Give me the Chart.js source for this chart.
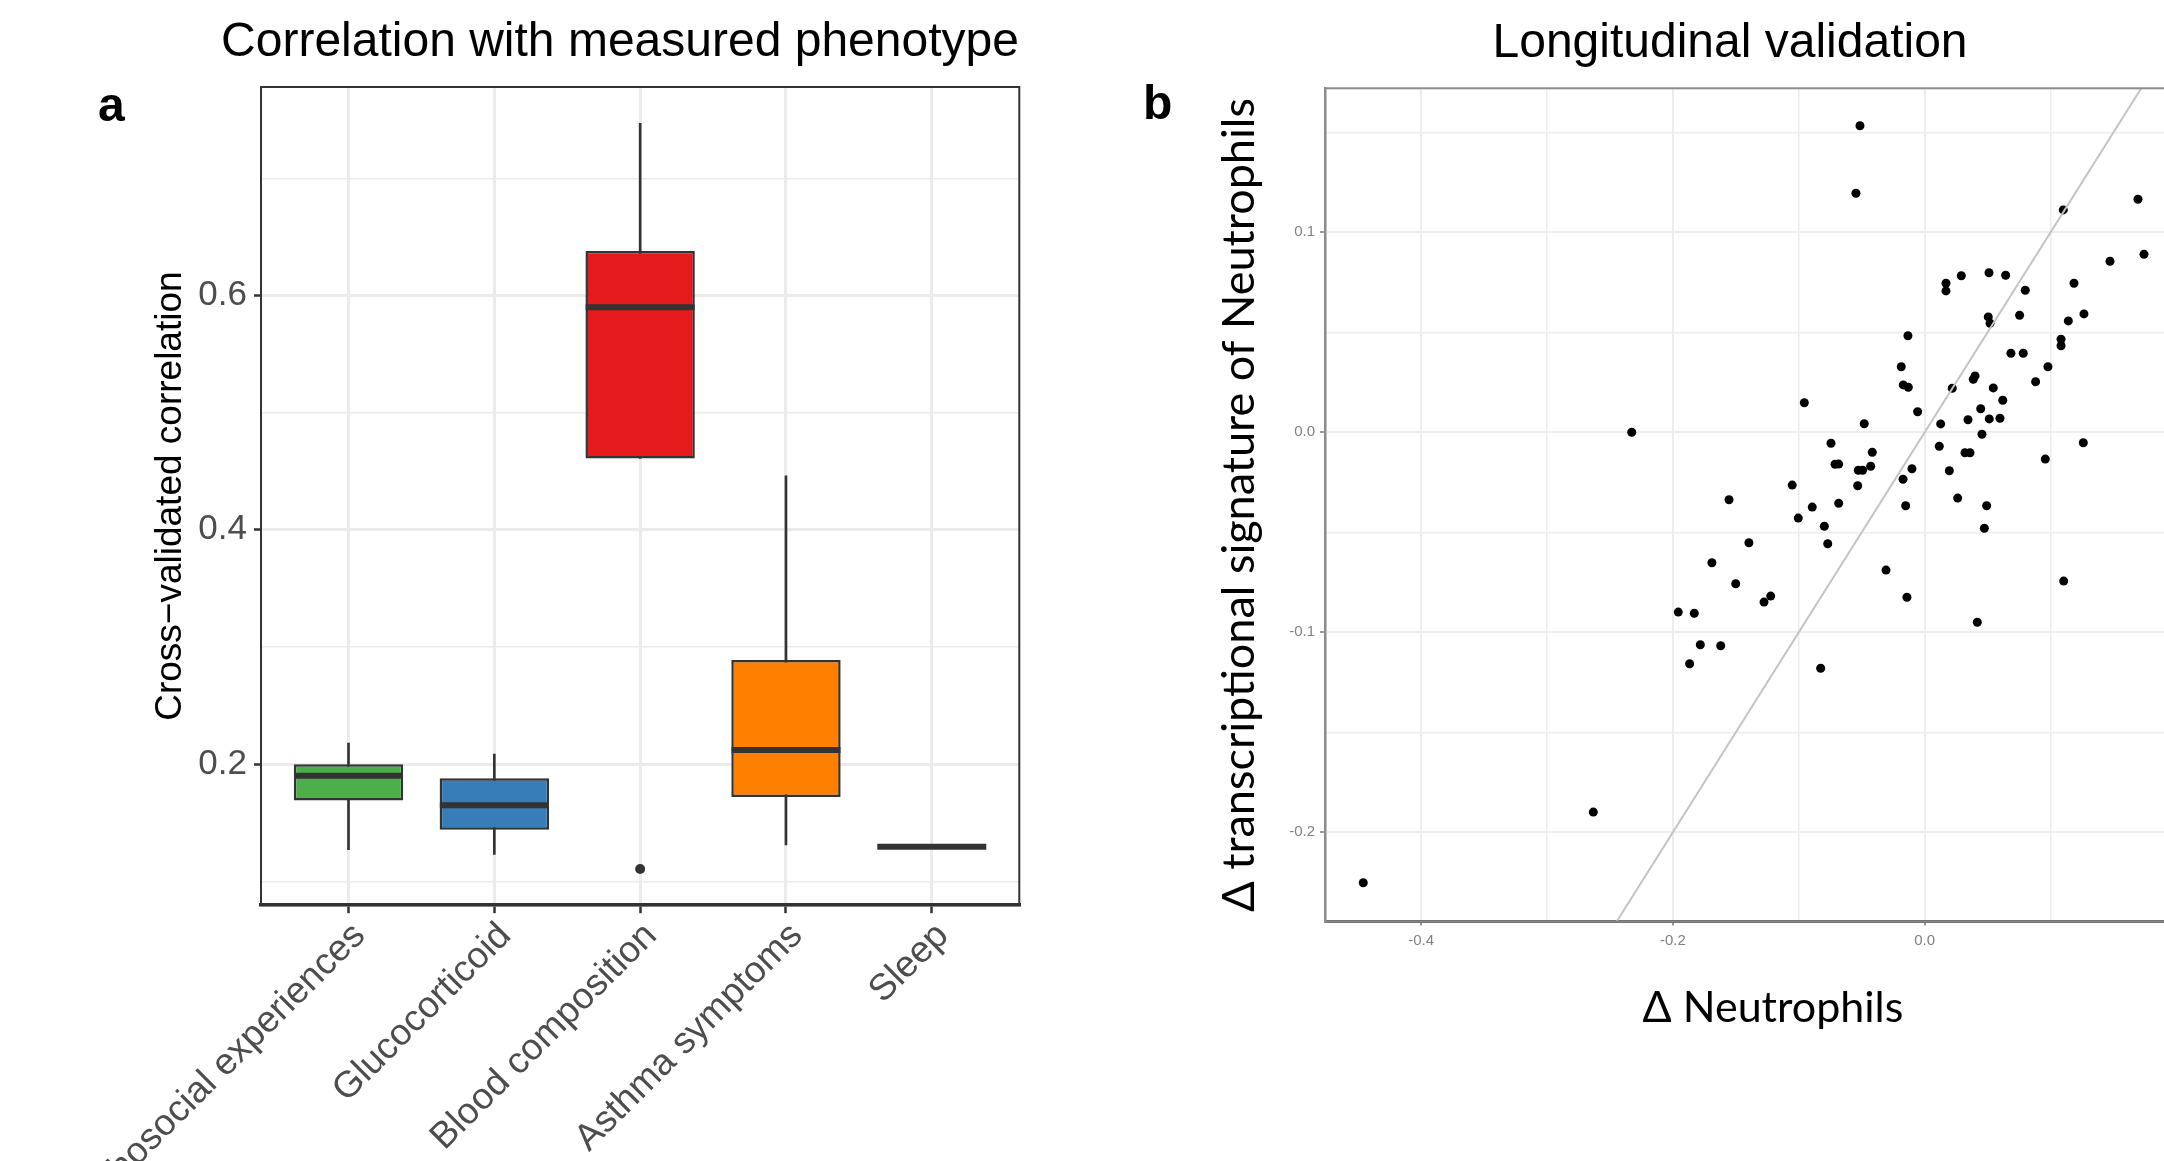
<!DOCTYPE html>
<html>
<head>
<meta charset="utf-8">
<script src="https://cdn.jsdelivr.net/npm/chart.js@4.4.1/dist/chart.umd.min.js"></script>
<style>
  html, body { margin: 0; padding: 0; background: #fff; }
  body { position: relative; width: 2164px; height: 1161px; overflow: hidden; }
  canvas { position: absolute; top: 0; }
  #chartA { left: 0; }
  #chartB { left: 1100px; }
  .txt { position: absolute; white-space: nowrap; line-height: 1; color: #000; z-index: 2; }
  .arial { font-family: 'Liberation Sans', Arial, sans-serif; }
</style>
</head>
<body>
<canvas id="chartA" width="1100" height="1161"></canvas>
<canvas id="chartB" width="1100" height="1161"></canvas>

<div class="txt arial" style="left:0;width:1240px;text-align:center;top:16px;font-size:48px">Correlation with measured phenotype</div>
<div class="txt arial" style="left:1230px;width:1000px;text-align:center;top:17px;font-size:48px">Longitudinal validation</div>
<div class="txt arial" style="left:98px;top:81px;font-size:48px;font-weight:bold">a</div>
<div class="txt arial" style="left:1143px;top:79px;font-size:48px;font-weight:bold">b</div>
<div class="txt" style="left:1573px;width:400px;text-align:center;top:984px;font-family:Lato,'Open Sans',sans-serif;font-size:43px">Δ Neutrophils</div>

<script>
// ─── PANEL A : cross-validated correlation per phenotype ─────────────────
const categories  = ['Psychosocial experiences', 'Glucocorticoid', 'Blood composition', 'Asthma symptoms', 'Sleep'];
const whiskerLow  = [0.127, 0.123, 0.461, 0.131, 0.1295];
const boxLow      = [0.169, 0.144, 0.461, 0.172, 0.1295];
const medians     = [0.190, 0.165, 0.590, 0.212, 0.1295];
const boxHigh     = [0.200, 0.188, 0.638, 0.289, 0.1295];
const whiskerHigh = [0.218, 0.2085, 0.747, 0.446, 0.1295];
const outlierCat  = [2];
const outlierVal  = [0.1105];
const boxColors   = ['#4DAF4A', '#377EB8', '#E41A1C', '#FF7F00', '#984EA3'];

const yRangeA  = [0.0796, 0.778];
const yGridA   = [0.1, 0.2, 0.3, 0.4, 0.5, 0.6, 0.7];
const yLabelsA = [0.2, 0.4, 0.6];

// ─── PANEL B : longitudinal validation ───────────────────────────────────
const dNeutro = [
  -0.0514, -0.0546, 0.1101, 0.1694, 0.1742, 0.1472, 0.1186, 0.1265, 0.1141, 0.1083,
   0.1083,  0.0979, 0.0881, 0.0799, 0.0754, 0.0685, 0.0783, 0.0643, 0.0511, 0.0505,
   0.0519,  0.0291, 0.0169, 0.0169, 0.0400, 0.0386, 0.0545, 0.0620, 0.0219, -0.0133,
  -0.0186, -0.0170, -0.0130, -0.0956, -0.0056, -0.0480, 0.0445, 0.0127, 0.0344, 0.0513,
   0.0598,  0.0455, 0.1260, 0.0116, 0.0320, 0.0360, 0.0958, 0.0196, -0.0101, -0.0172,
  -0.0151,  0.0262, 0.0492, 0.0474, -0.0416, -0.0429, -0.0527, -0.0493, -0.0532, -0.0744,
  -0.0712, -0.0683, -0.0683, -0.0893, -0.1004, -0.0797, -0.0770, -0.1052, -0.1554, -0.1396,
  -0.1690, -0.1501, -0.1223, -0.1276, -0.1957, -0.1830, -0.1782, -0.1620, -0.1867, -0.0826,
  -0.0307, -0.0141, 0.0418, 0.1104, -0.2327, -0.2632, -0.4459
];
const dSignature = [
   0.1533, 0.1195, 0.1112, 0.1165, 0.0890, 0.0855, 0.0745, 0.0592, 0.0557, 0.0465,
   0.0433, 0.0328, 0.0253, 0.0710, 0.0585, 0.0395, 0.0395, 0.0785, 0.0798, 0.0577,
   0.0545, 0.0783, 0.0745, 0.0707, 0.0282, 0.0265, 0.0222, 0.0160, 0.0220, 0.0483,
   0.0328, 0.0237, 0.0225, 0.0148, 0.0103, 0.0043, 0.0118, 0.0042, 0.0063, 0.0067,
   0.0070, -0.0010, -0.0052, -0.0070, -0.0102, -0.0102, -0.0134, -0.0192, -0.0182, -0.0235,
  -0.0367, -0.0329, -0.0367, -0.0480, -0.0100, -0.0170, -0.0190, -0.0190, -0.0267, -0.0055,
  -0.0160, -0.0159, -0.0355, -0.0374, -0.0429, -0.0470, -0.0557, -0.0264, -0.0337, -0.0552,
  -0.0652, -0.0757, -0.0819, -0.0849, -0.0899, -0.0905, -0.1062, -0.1067, -0.1157, -0.1180,
  -0.0689, -0.0825, -0.0950, -0.0744, 0.0000, -0.1899, -0.2252
];
const identityEnds = [-0.5, 0.5];   // y = x reference line

const xRangeB  = [-0.4763, 0.207];
const yRangeB  = [-0.2446, 0.172];
const xGridB   = [-0.4, -0.3, -0.2, -0.1, 0.0, 0.1, 0.2];
const xLabelsB = [-0.4, -0.2, 0.0, 0.2];
const yGridB   = [-0.2, -0.15, -0.1, -0.05, 0.0, 0.05, 0.1, 0.15];
const yLabelsB = [-0.2, -0.1, 0.0, 0.1];

// ─── SHARED ──────────────────────────────────────────────────────────────
const ARIAL = "'Liberation Sans', Arial, sans-serif";
const CALIBRI_ISH = "Lato, 'Open Sans', sans-serif";

// ggplot-like panel border drawn over the plot
const panelFrame = {
  id: 'panelFrame',
  afterDraw(chart, args, opts) {
    const { ctx, chartArea: a } = chart;
    ctx.save();
    ctx.strokeStyle = opts.color;
    ctx.lineWidth = opts.width;
    ctx.strokeRect(a.left, a.top, a.right - a.left, a.bottom - a.top);
    ctx.restore();
  }
};

function fixedTicks(values) {
  return scale => { scale.ticks = values.map(v => ({ value: v })); };
}

// ─── CHART A ─────────────────────────────────────────────────────────────
new Chart(document.getElementById('chartA'), {
  type: 'bar',
  data: {
    datasets: [
      {
        type: 'line', label: 'outlier',
        data: outlierCat.map((c, i) => ({ x: c, y: outlierVal[i] })),
        showLine: false, pointRadius: 5, pointBackgroundColor: '#333', pointBorderWidth: 0, order: 0
      },
      {
        type: 'line', label: 'median',
        data: categories.map((c, i) => ({ x: i, y: medians[i] })),
        showLine: false, pointStyle: 'line', pointRadius: 54.5,
        pointBorderColor: '#333', pointBorderWidth: 6, order: 1
      },
      {
        label: 'box',
        data: categories.map((c, i) => ({ x: i, y: [boxLow[i], boxHigh[i]] })),
        backgroundColor: boxColors, borderColor: '#333', borderWidth: 2.5, borderSkipped: false,
        grouped: false, categoryPercentage: 1, barPercentage: 0.75, order: 2
      },
      {
        label: 'whisker',
        data: categories.map((c, i) => ({ x: i, y: [whiskerLow[i], whiskerHigh[i]] })),
        backgroundColor: '#333', barThickness: 2, grouped: false, order: 3
      }
    ]
  },
  options: {
    responsive: false, animation: false,
    layout: { autoPadding: false, padding: { left: 0, top: 87, right: 80.7, bottom: 0 } },
    plugins: { legend: { display: false }, tooltip: { enabled: false }, panelFrame: { color: '#333', width: 2 } },
    scales: {
      x: {
        type: 'linear', min: -0.6, max: 4.6, offset: false,
        afterBuildTicks: fixedTicks(categories.map((c, i) => i)),
        afterFit: s => { s.height = 1161 - 905.2; s.paddingLeft = 0; s.paddingRight = 0; },
        ticks: {
          autoSkip: false, minRotation: 45, maxRotation: 45, padding: 1, labelOffset: 11,
          color: '#4d4d4d', font: { family: ARIAL, size: 37 },
          callback: v => categories[v]
        },
        grid: { offset: false, color: '#ebebeb', lineWidth: 3, tickLength: 8, tickColor: '#333', tickWidth: 2.5 },
        border: { display: true, color: '#333', width: 3.5 }
      },
      y: {
        min: yRangeA[0], max: yRangeA[1],
        afterBuildTicks: fixedTicks(yGridA),
        afterFit: s => { s.width = 261; s.paddingTop = 0; s.paddingBottom = 0; },
        ticks: {
          autoSkip: false, padding: 7, color: '#4d4d4d', font: { family: ARIAL, size: 35 },
          callback: v => yLabelsA.includes(v) ? v.toFixed(1) : ''
        },
        grid: {
          color: '#ebebeb',
          lineWidth: c => yLabelsA.includes(c.tick && c.tick.value) ? 3 : 1.5,
          tickLength: 7, tickWidth: 2.5,
          tickColor: c => yLabelsA.includes(c.tick && c.tick.value) ? '#333' : 'rgba(0,0,0,0)'
        },
        border: { display: false },
        title: {
          display: true, text: 'Cross−validated correlation', color: '#000',
          font: { family: ARIAL, size: 37 }, padding: { top: 149, bottom: 0 }
        }
      }
    }
  },
  plugins: [panelFrame]
});

// ─── CHART B ─────────────────────────────────────────────────────────────
new Chart(document.getElementById('chartB'), {
  type: 'scatter',
  data: {
    datasets: [
      {
        label: 'identity',
        data: identityEnds.map(v => ({ x: v, y: v })),
        showLine: true, borderColor: '#c4c4c4', borderWidth: 2, pointRadius: 0, order: 0
      },
      {
        label: 'samples',
        data: dNeutro.map((x, i) => ({ x: x, y: dSignature[i] })),
        pointRadius: 4.5, pointBackgroundColor: '#000', pointBorderWidth: 0, order: 1
      }
    ]
  },
  options: {
    responsive: false, animation: false,
    layout: { autoPadding: false, padding: { left: 0, top: 88.3, right: 14.7, bottom: 0 } },
    plugins: { legend: { display: false }, tooltip: { enabled: false }, panelFrame: { color: '#8c8c8c', width: 2 } },
    scales: {
      x: {
        min: xRangeB[0], max: xRangeB[1],
        afterBuildTicks: fixedTicks(xGridB),
        afterFit: s => { s.height = 1161 - 921.5; s.paddingLeft = 0; s.paddingRight = 0; },
        ticks: {
          autoSkip: false, maxRotation: 0, padding: 6, color: '#808080', font: { family: ARIAL, size: 15 },
          callback: v => xLabelsB.includes(v) ? v.toFixed(1) : ''
        },
        grid: {
          color: '#ededed',
          lineWidth: c => xLabelsB.includes(c.tick && c.tick.value) ? 2 : 1.5,
          tickLength: 4, tickWidth: 1.5,
          tickColor: c => xLabelsB.includes(c.tick && c.tick.value) ? '#777' : 'rgba(0,0,0,0)'
        },
        border: { display: true, color: '#555', width: 3 }
      },
      y: {
        min: yRangeB[0], max: yRangeB[1],
        afterBuildTicks: fixedTicks(yGridB),
        afterFit: s => { s.width = 225; s.paddingTop = 0; s.paddingBottom = 0; },
        ticks: {
          autoSkip: false, padding: 5, color: '#808080', font: { family: ARIAL, size: 15 },
          callback: v => yLabelsB.includes(v) ? v.toFixed(1) : ''
        },
        grid: {
          color: '#ededed',
          lineWidth: c => yLabelsB.includes(c.tick && c.tick.value) ? 2 : 1.5,
          tickLength: 5, tickWidth: 1.5,
          tickColor: c => yLabelsB.includes(c.tick && c.tick.value) ? '#777' : 'rgba(0,0,0,0)'
        },
        border: { display: true, color: '#888', width: 2.5 },
        title: {
          display: true, text: 'Δ transcriptional signature of Neutrophils', color: '#000',
          font: { family: CALIBRI_ISH, size: 45 }, padding: { top: 112, bottom: 0 }
        }
      }
    }
  },
  plugins: [panelFrame]
});
</script>
</body>
</html>
